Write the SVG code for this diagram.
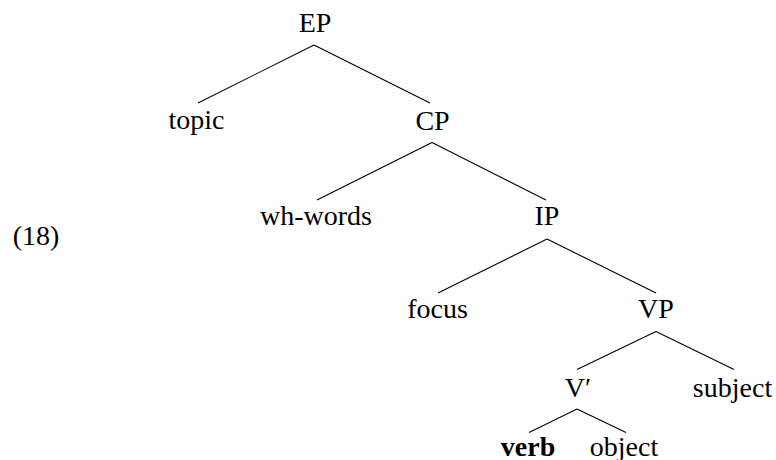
<svg xmlns="http://www.w3.org/2000/svg" width="776" height="460" viewBox="0 0 776 460">
<style>
text{font-family:"Liberation Serif","Times New Roman",serif;font-size:28px;fill:#000;text-anchor:middle}
.b{font-weight:bold}
line{stroke:#000;stroke-width:1.1}
</style>
<rect width="776" height="460" fill="#fff"/>
<g id="edges">
<line x1="314" y1="45" x2="198" y2="103"/>
<line x1="314" y1="45" x2="430" y2="103"/>
<line x1="432" y1="142.5" x2="317" y2="200"/>
<line x1="432" y1="142.5" x2="546" y2="200"/>
<line x1="547" y1="239" x2="438" y2="293"/>
<line x1="547" y1="239" x2="656" y2="293"/>
<line x1="656" y1="331.5" x2="577" y2="369.5"/>
<line x1="656" y1="331.5" x2="734" y2="369.5"/>
<line x1="577" y1="409" x2="529" y2="432.5"/>
<line x1="577" y1="409" x2="626" y2="432.5"/>
</g>
<g id="n-ex"><text x="36" y="245">(18)</text></g>
<g id="n-EP"><text x="315" y="32">EP</text></g>
<g id="n-topic"><text x="196.5" y="128.5">topic</text></g>
<g id="n-CP"><text x="432.5" y="129.5">CP</text></g>
<g id="n-wh"><text x="316" y="224.5">wh-words</text></g>
<g id="n-IP"><text x="547" y="224.5">IP</text></g>
<g id="n-focus"><text x="437.5" y="318">focus</text></g>
<g id="n-VP"><text x="656" y="318">VP</text></g>
<g id="n-Vbar"><text x="578" y="396.5">V′</text></g>
<g id="n-subject"><text x="732.5" y="396.5">subject</text></g>
<g id="n-verb"><text class="b" x="528" y="456">verb</text></g>
<g id="n-object"><text x="624" y="456">object</text></g>
</svg>
